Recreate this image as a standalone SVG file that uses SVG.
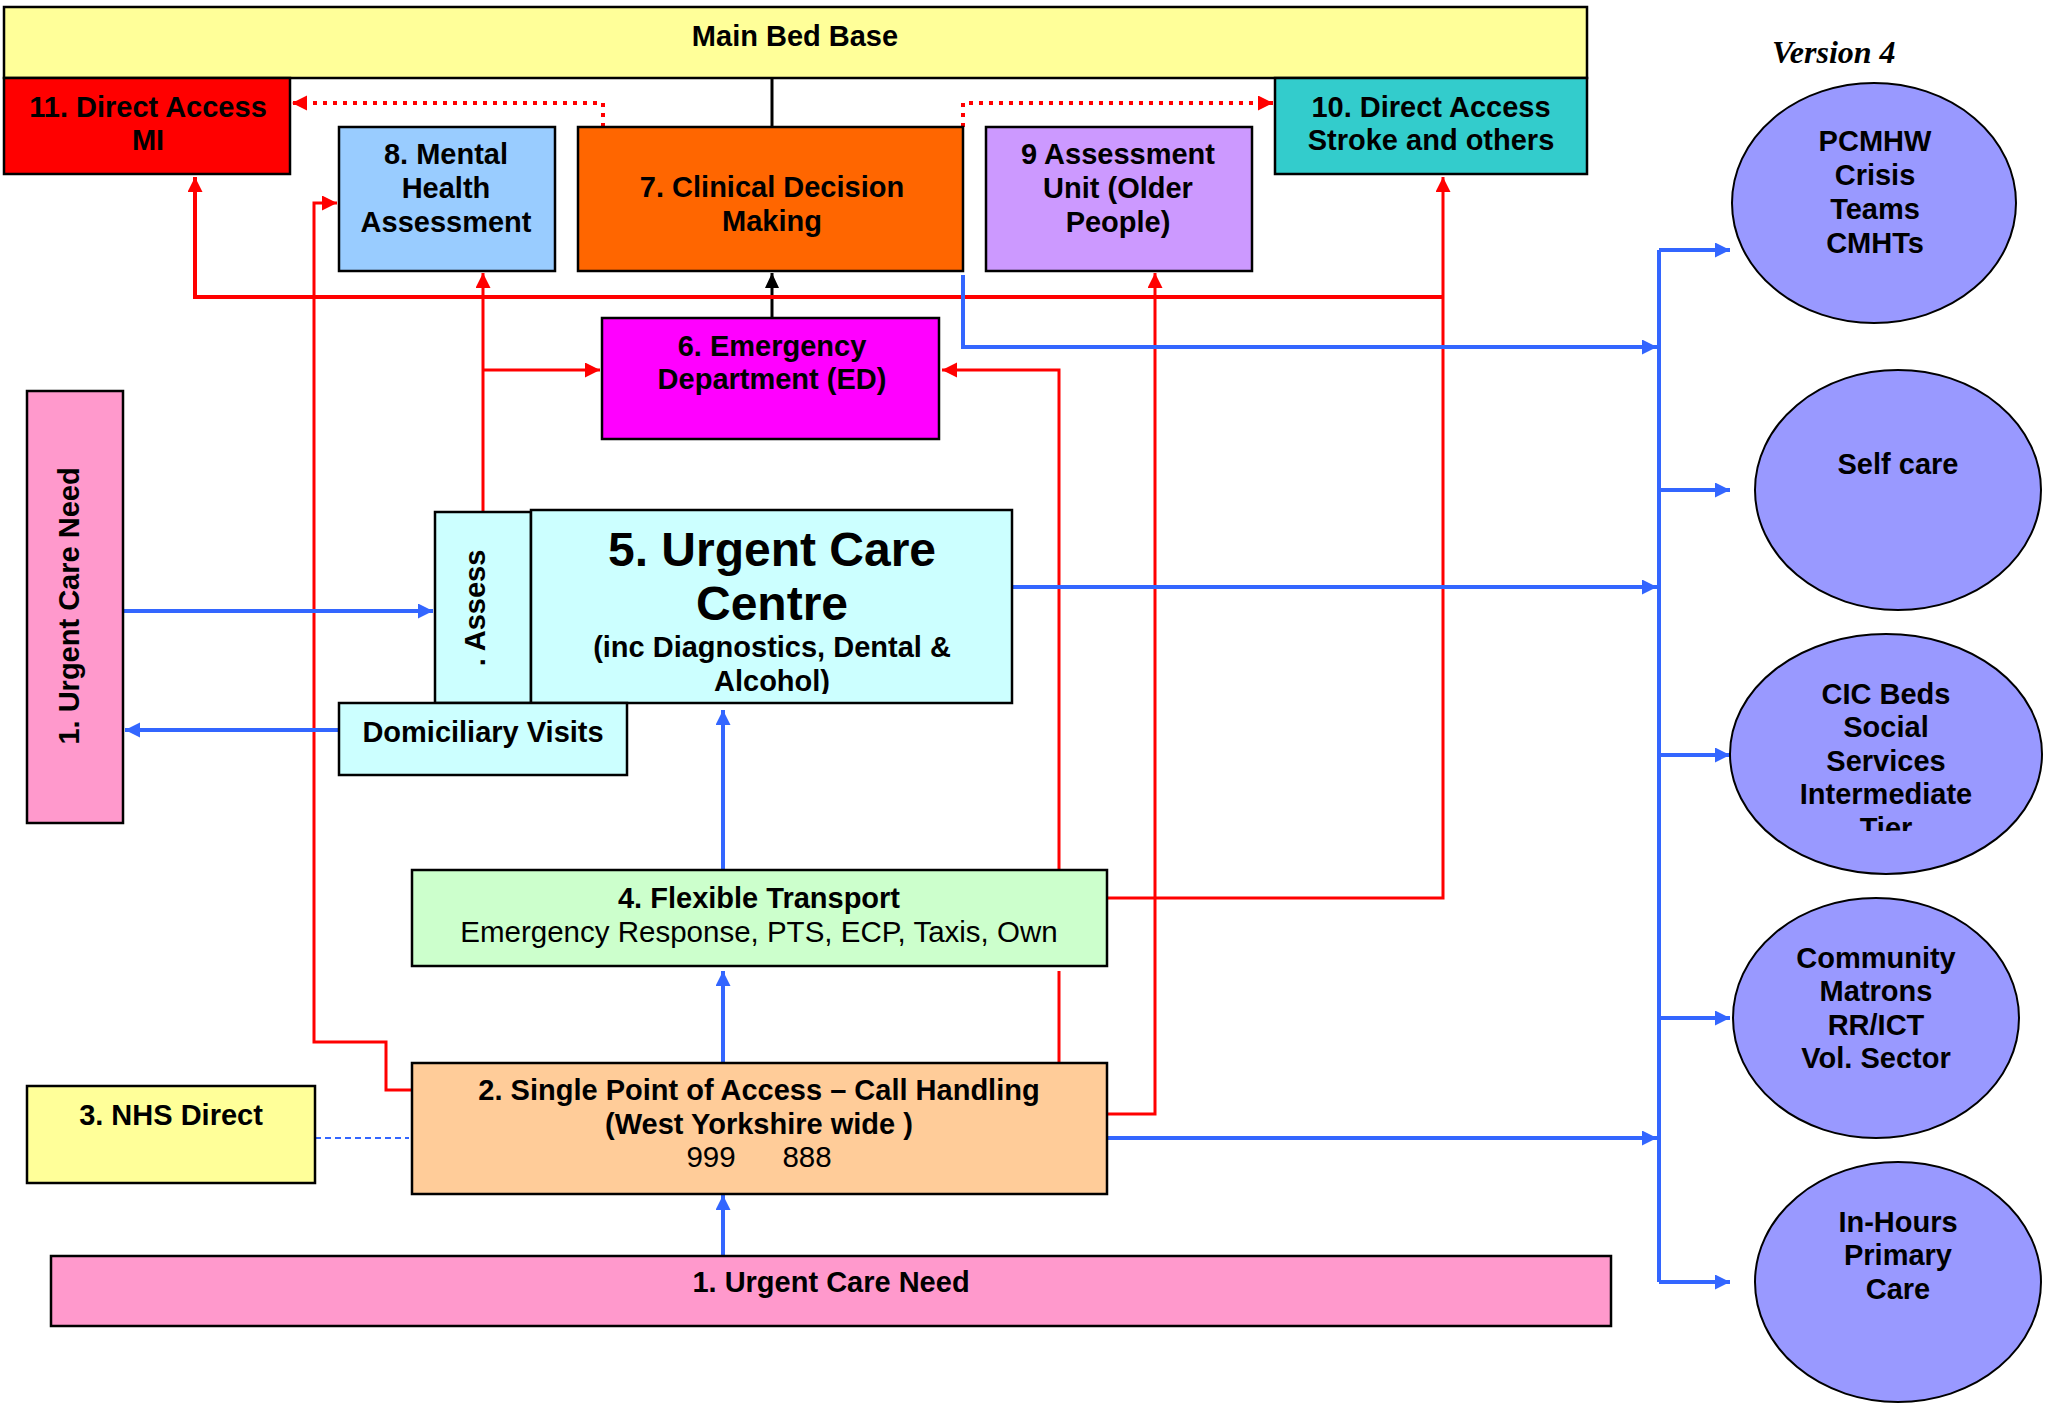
<svg xmlns="http://www.w3.org/2000/svg" width="2049" height="1405" viewBox="0 0 2049 1405">
<style>
text{font-family:"Liberation Sans",Arial,sans-serif;font-weight:bold;font-size:29px;fill:#000;text-anchor:middle}
.reg{font-weight:normal;font-size:29.5px}
.box{stroke:#000;stroke-width:2.5}
.ell{fill:#9999FF;stroke:#000;stroke-width:2}
.red{fill:none;stroke:#FF0000;stroke-width:3}
.blue{fill:none;stroke:#3366FF;stroke-width:4}
.blk{fill:none;stroke:#000;stroke-width:3}
.dot{fill:none;stroke:#FF0000;stroke-width:4;stroke-dasharray:4 6}
</style>
<defs>
<marker id="ar" markerUnits="userSpaceOnUse" markerWidth="16" markerHeight="16" refX="15" refY="7.5" orient="auto"><path d="M0,0 L15,7.5 L0,15 z" fill="#FF0000"/></marker>
<marker id="ab" markerUnits="userSpaceOnUse" markerWidth="16" markerHeight="16" refX="15" refY="7.5" orient="auto"><path d="M0,0 L15,7.5 L0,15 z" fill="#3366FF"/></marker>
<marker id="ak" markerUnits="userSpaceOnUse" markerWidth="16" markerHeight="16" refX="15" refY="7" orient="auto"><path d="M0,0 L15,7 L0,14 z" fill="#000"/></marker>
<clipPath id="clipUcc"><rect x="531" y="510" width="481" height="184"/></clipPath>
<clipPath id="clipCic"><rect x="1730" y="634" width="313" height="197"/></clipPath>
</defs>
<rect width="2049" height="1405" fill="#fff"/>

<g id="connectors">
<path class="blk" d="M772,78 V127"/>
<path class="blk" d="M772,318 V273" marker-end="url(#ak)"/>
<path class="dot" d="M603,127 V103 H292" marker-end="url(#ar)"/>
<path class="dot" d="M963,127 V103 H1273" marker-end="url(#ar)"/>
<path class="red" d="M411,1090 H386 V1042 H314 V203 H337" marker-end="url(#ar)"/>
<path class="red" d="M483,511 V273" marker-end="url(#ar)"/>
<path class="red" d="M483,370 H600" marker-end="url(#ar)"/>
<path class="red" d="M1059,1063 V971"/>
<path class="red" d="M1059,870 V370 H942" marker-end="url(#ar)"/>
<path class="red" d="M1107,898 H1443 V177" marker-end="url(#ar)"/>
<path class="red" style="stroke-width:4" d="M1443,297 H195 V177" marker-end="url(#ar)"/>
<path class="red" d="M1107,1114 H1155 V273" marker-end="url(#ar)"/>
<path class="blue" d="M963,275 V347 H1657" marker-end="url(#ab)"/>
<path class="blue" d="M1012,587 H1657" marker-end="url(#ab)"/>
<path class="blue" d="M1107,1138 H1657" marker-end="url(#ab)"/>
<path class="blue" d="M1659,250 V1282"/>
<path class="blue" d="M1659,250 H1730" marker-end="url(#ab)"/>
<path class="blue" d="M1659,490 H1730" marker-end="url(#ab)"/>
<path class="blue" d="M1659,755 H1730" marker-end="url(#ab)"/>
<path class="blue" d="M1659,1018 H1730" marker-end="url(#ab)"/>
<path class="blue" d="M1659,1282 H1730" marker-end="url(#ab)"/>
<path class="blue" d="M123,611 H433" marker-end="url(#ab)"/>
<path class="blue" d="M339,730 H125" marker-end="url(#ab)"/>
<path class="blue" d="M723,870 V710" marker-end="url(#ab)"/>
<path class="blue" d="M723,1063 V971" marker-end="url(#ab)"/>
<path class="blue" d="M723,1256 V1195" marker-end="url(#ab)"/>
<path fill="none" stroke="#3366FF" stroke-width="2" stroke-dasharray="6 4" d="M315,1138 H409"/>
</g>

<g id="main-bed-base">
<rect class="box" x="4" y="7" width="1583" height="71" fill="#FFFF99"/>
<text x="795" y="46">Main Bed Base</text>
</g>
<g id="n11-direct-access-mi">
<rect class="box" x="4" y="78" width="286" height="96" fill="#FF0000"/>
<text x="148" y="117">11. Direct Access</text>
<text x="148" y="150">MI</text>
</g>
<g id="n8-mental-health">
<rect class="box" x="339" y="127" width="216" height="144" fill="#99CCFF"/>
<text x="446" y="164">8. Mental</text>
<text x="446" y="198">Health</text>
<text x="446" y="232">Assessment</text>
</g>
<g id="n7-clinical-decision">
<rect class="box" x="578" y="127" width="385" height="144" fill="#FF6600"/>
<text x="772" y="197">7. Clinical Decision</text>
<text x="772" y="231">Making</text>
</g>
<g id="n9-assessment-unit">
<rect class="box" x="986" y="127" width="266" height="144" fill="#CC99FF"/>
<text x="1118" y="164">9 Assessment</text>
<text x="1118" y="198">Unit (Older</text>
<text x="1118" y="232">People)</text>
</g>
<g id="n10-direct-access-stroke">
<rect class="box" x="1275" y="78" width="312" height="96" fill="#33CCCC"/>
<text x="1431" y="117">10. Direct Access</text>
<text x="1431" y="150">Stroke and others</text>
</g>
<g id="version-label">
<text x="1772" y="63" style="font-family:'Liberation Serif','Times New Roman',serif;font-style:italic;font-size:32px;text-anchor:start">Version 4</text>
</g>
<g id="n6-emergency-department">
<rect class="box" x="602" y="318" width="337" height="121" fill="#FF00FF"/>
<text x="772" y="356">6. Emergency</text>
<text x="772" y="389">Department (ED)</text>
</g>
<g id="n1-urgent-care-need-left">
<rect class="box" x="27" y="391" width="96" height="432" fill="#FF99CC"/>
<text transform="translate(79,606) rotate(-90)">1. Urgent Care Need</text>
</g>
<g id="assess">
<rect class="box" x="435" y="512" width="96" height="191" fill="#CCFFFF"/>
<text transform="translate(485,608) rotate(-90)" style="font-size:29px">. Assess</text>
</g>
<g id="n5-urgent-care-centre">
<rect class="box" x="531" y="510" width="481" height="193" fill="#CCFFFF"/>
<g clip-path="url(#clipUcc)">
<text x="772" y="566" style="font-size:48px">5. Urgent Care</text>
<text x="772" y="620" style="font-size:48px">Centre</text>
<text x="772" y="657">(inc Diagnostics, Dental &amp;</text>
<text x="772" y="691">Alcohol)</text>
</g>
</g>
<g id="domiciliary-visits">
<rect class="box" x="339" y="703" width="288" height="72" fill="#CCFFFF"/>
<text x="483" y="742">Domiciliary Visits</text>
</g>
<g id="n4-flexible-transport">
<rect class="box" x="412" y="870" width="695" height="96" fill="#CCFFCC"/>
<text x="759" y="908">4. Flexible Transport</text>
<text class="reg" x="759" y="942">Emergency Response, PTS, ECP, Taxis, Own</text>
</g>
<g id="n3-nhs-direct">
<rect class="box" x="27" y="1086" width="288" height="97" fill="#FFFF99"/>
<text x="171" y="1125">3. NHS Direct</text>
</g>
<g id="n2-single-point-of-access">
<rect class="box" x="412" y="1063" width="695" height="131" fill="#FFCC99"/>
<text x="759" y="1100">2. Single Point of Access – Call Handling</text>
<text x="759" y="1134">(West Yorkshire wide )</text>
<text class="reg" x="711" y="1167">999</text>
<text class="reg" x="807" y="1167">888</text>
</g>
<g id="n1-urgent-care-need-bottom">
<rect class="box" x="51" y="1256" width="1560" height="70" fill="#FF99CC"/>
<text x="831" y="1292">1. Urgent Care Need</text>
</g>
<g id="pcmhw">
<ellipse class="ell" cx="1874" cy="203" rx="142" ry="120"/>
<text x="1875" y="151">PCMHW</text>
<text x="1875" y="185">Crisis</text>
<text x="1875" y="219">Teams</text>
<text x="1875" y="253">CMHTs</text>
</g>
<g id="self-care">
<ellipse class="ell" cx="1898" cy="490" rx="143" ry="120"/>
<text x="1898" y="474">Self care</text>
</g>
<g id="cic-beds">
<ellipse class="ell" cx="1886" cy="754" rx="156" ry="120"/>
<g clip-path="url(#clipCic)">
<text x="1886" y="704">CIC Beds</text>
<text x="1886" y="737">Social</text>
<text x="1886" y="771">Services</text>
<text x="1886" y="804">Intermediate</text>
<text x="1886" y="838">Tier</text>
</g>
</g>
<g id="community-matrons">
<ellipse class="ell" cx="1876" cy="1018" rx="143" ry="120"/>
<text x="1876" y="968">Community</text>
<text x="1876" y="1001">Matrons</text>
<text x="1876" y="1035">RR/ICT</text>
<text x="1876" y="1068">Vol. Sector</text>
</g>
<g id="in-hours-primary-care">
<ellipse class="ell" cx="1898" cy="1282" rx="143" ry="120"/>
<text x="1898" y="1232">In-Hours</text>
<text x="1898" y="1265">Primary</text>
<text x="1898" y="1299">Care</text>
</g>
</svg>
